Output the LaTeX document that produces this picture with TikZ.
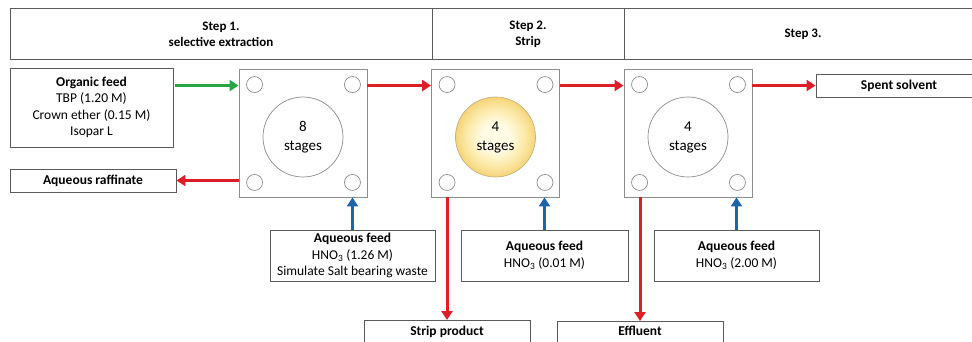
\documentclass[tikz,border=0pt]{standalone}
\usepackage{fontspec}
\setmainfont{Carlito}
\usetikzlibrary{arrows.meta,positioning,calc}
\definecolor{arrred}{RGB}{222,30,38}
\definecolor{arrgreen}{RGB}{40,165,70}
\definecolor{arrblue}{RGB}{28,100,170}
\definecolor{boxline}{RGB}{90,90,90}
\definecolor{modline}{RGB}{140,140,140}
\definecolor{goldedge}{RGB}{245,212,120}
\definecolor{goldmid}{RGB}{252,234,170}
\definecolor{goldcenter}{RGB}{255,251,228}
\pgfdeclareradialshading{goldball}{\pgfpoint{0bp}{0bp}}{color(0bp)=(goldcenter); color(9bp)=(goldcenter); color(18bp)=(goldmid); color(25bp)=(goldedge); color(50bp)=(goldedge)}
\tikzset{
  x=1pt, y=-1pt,
  every node/.style={font=\fontsize{13.5}{16.3}\selectfont, inner sep=0pt, align=center},
  infobox/.style={draw=boxline, line width=0.9pt, fill=white},
  module/.style={draw=modline, line width=0.9pt, fill=white, minimum width=128pt, minimum height=128pt},
  port/.style={circle, draw=modline, line width=0.7pt, fill=white, minimum size=16pt},
  stagecirc/.style={circle, draw=modline, line width=0.7pt, fill=white, minimum size=80pt, font=\fontsize{15}{17}\selectfont},
  flow/.style={line width=3pt, -{Triangle[length=9pt,width=11pt]}},
  redflow/.style={flow, draw=arrred},
  greenflow/.style={flow, draw=arrgreen},
  blueflow/.style={flow, draw=arrblue},
  hdr/.style={font=\fontsize{13}{15.5}\selectfont\bfseries}
}
\begin{document}
\begin{tikzpicture}
\clip (0,0) rectangle (972,342);
\fill[white] (0,0) rectangle (972,342);
% header band
\draw[boxline, line width=0.9pt] (10,8) rectangle (985,59);
\draw[boxline, line width=0.9pt] (432,8) -- (432,59);
\draw[boxline, line width=0.9pt] (624,8) -- (624,59);
\node[hdr] (h1) at (221,34.5) {Step 1.\\selective extraction};
\node[hdr] (h2) at (528,34.5) {Step 2.\\Strip};
\node[hdr] (h3) at (803,34) {Step 3.};

% organic feed
\node[infobox, minimum width=163pt, minimum height=79pt] (org) at (91.5,107.5)
  {\textbf{Organic feed}\\TBP (1.20 M)\\Crown ether (0.15 M)\\Isopar L};
% raffinate
\node[infobox, minimum width=166pt, minimum height=23pt] (raff) at (93,180.5) {\textbf{Aqueous raffinate}};

% modules
\node[module] (m1) at (303,133) {};
\node[module] (m2) at (495.5,133) {};
\node[module] (m3) at (688,133) {};
\foreach \m in {1,2,3}{
  \node[port] (p\m a) at ($(m\m.north west)+(16,16)$) {};
  \node[port] (p\m b) at ($(m\m.north east)+(-15,16)$) {};
  \node[port] (p\m c) at ($(m\m.south west)+(16,-15)$) {};
  \node[port] (p\m d) at ($(m\m.south east)+(-15,-15)$) {};
}
\node[stagecirc] (s1) at ($(m1)+(0,4)$) {8\\[2pt]stages};
\node[stagecirc, draw=goldedge!60!gray, shading=goldball] (s2) at ($(m2)+(0,4)$) {4\\[2pt]stages};
\node[stagecirc] (s3) at ($(m3)+(0,4)$) {4\\[2pt]stages};

% spent solvent
\node[infobox, minimum width=166pt, minimum height=23pt] (spent) at (899,85.5) {\textbf{Spent solvent}};

% aqueous feeds
\node[infobox, minimum width=165pt, minimum height=51pt] (f1) at (352.5,255.5)
  {\textbf{Aqueous feed}\\HNO\textsubscript{3} (1.26 M)\\Simulate Salt bearing waste};
\node[infobox, minimum width=167pt, minimum height=51pt] (f2) at (544.5,255.5)
  {\textbf{Aqueous feed}\\HNO\textsubscript{3} (0.01 M)};
\node[infobox, minimum width=165pt, minimum height=51pt] (f3) at (736.5,255.5)
  {\textbf{Aqueous feed}\\HNO\textsubscript{3} (2.00 M)};

% products (cut off at bottom)
\node[infobox, minimum width=166pt, minimum height=51pt, anchor=north] (strip) at (447,320) {};
\node[anchor=north] (striptxt) at ($(strip.north)+(0,6)$) {\textbf{Strip product}};
\node[infobox, minimum width=166pt, minimum height=51pt, anchor=north] (eff) at (640,321) {};
\node[anchor=north] (efftxt) at ($(eff.north)+(0,5)$) {\textbf{Effluent}};

% flows
\draw[greenflow] ($(org.east |- p1a)+(2,1)$) -- ($(m1.west |- p1a)+(0,1)$);
\draw[redflow] ($(m1.east |- p1b)+(0,1)$) -- ($(m2.west |- p1b)+(0,1)$);
\draw[redflow] ($(m2.east |- p2b)+(0,1)$) -- ($(m3.west |- p2b)+(0,1)$);
\draw[redflow] ($(m3.east |- p3b)+(0,1)$) -- ($(spent.west |- p3b)+(0,1)$);
\draw[redflow] (m1.west |- raff) -- (raff.east);
\draw[blueflow] (f1.north) -- (f1.north |- m1.south);
\draw[blueflow] (f2.north) -- (f2.north |- m2.south);
\draw[blueflow] (f3.north) -- (f3.north |- m3.south);
\draw[redflow] (strip.north |- m2.south) -- (strip.north);
\draw[redflow] (eff.north |- m3.south) -- (eff.north);
\end{tikzpicture}
\end{document}
